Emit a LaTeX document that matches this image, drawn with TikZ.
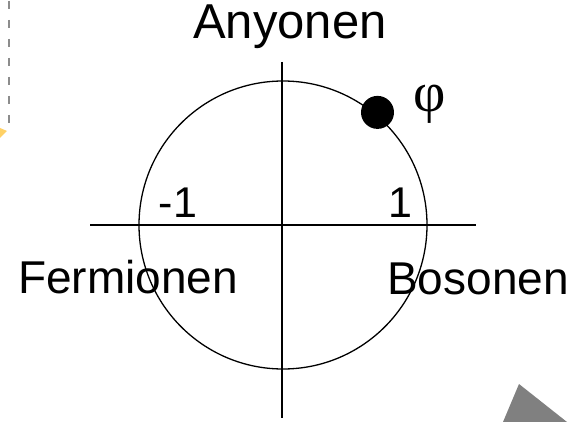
\documentclass[tikz,border=0pt]{standalone}
\usepackage{fontspec}
\setmainfont{Liberation Sans}
\newfontfamily\phifont{Liberation Serif}
\usetikzlibrary{calc}
\tikzset{
  axisline/.style={line width=1.4pt, black},
  unitcircle/.style={line width=1.3pt, black},
  phasedot/.style={circle, fill=black, inner sep=0pt, minimum size=33pt},
  bigtext/.style={font=\fontsize{49}{56}\selectfont, inner sep=0pt},
  sidetext/.style={font=\fontsize{46}{52}\selectfont, inner sep=0pt},
  numtext/.style={font=\fontsize{43}{50}\selectfont, inner sep=0pt},
  phitext/.style={font=\phifont\fontsize{56}{62}\selectfont, inner sep=0pt},
}

\begin{document}
\begin{tikzpicture}[x=1pt, y=-1pt]
  \useasboundingbox (0,0) rectangle (586,422);
  % slide leftovers
  \draw[gray!90, line width=1.6pt, dash pattern=on 8pt off 11pt] (9,1) -- (9,126);
  \fill[orange!60!yellow, opacity=0.6] (0,128) -- (7,131) -- (0,138) -- cycle;
  \fill[gray] (519,384) -- (567,422) -- (503,422) -- cycle;
  % axes and circle
  \coordinate (c) at (283,225);
  \coordinate (xl) at (90,225);
  \coordinate (xr) at (476,225);
  \coordinate (yt) at (282,62);
  \coordinate (yb) at (282,418);
  \draw[axisline] (xl) -- (xr);
  \draw[axisline] (yt) -- (yb);
  \draw[unitcircle] (c) circle[radius=144];
  \node[phasedot] (dot) at ($(c)+(-50:147)$) {};
  % labels
  \node[bigtext, anchor=base] (any) at (290,39) {Anyonen};
  \node[sidetext, anchor=base] (ferm) at (128,293) {Fermionen};
  \node[sidetext, anchor=base] (bos) at (478,294) {Bosonen};
  \node[numtext, anchor=base] (minone) at (178,218) {-1};
  \node[numtext, anchor=base] (one) at (400,218) {1};
  \node[phitext, anchor=center] (phi) at (430,104) {φ};
\end{tikzpicture}
\end{document}
